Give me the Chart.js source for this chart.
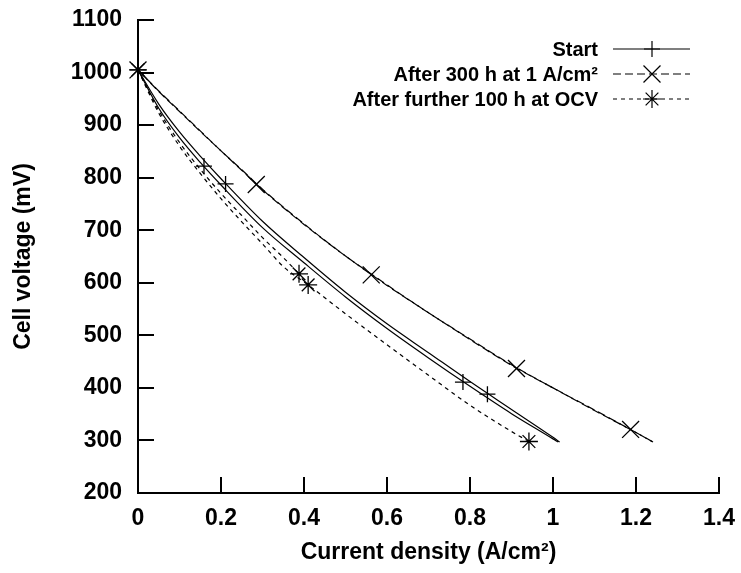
<!DOCTYPE html>
<html>
<head>
<meta charset="utf-8">
<script src="https://cdn.jsdelivr.net/npm/chart.js@4.4.1/dist/chart.umd.min.js"></script>
<style>
    body { margin: 0; background: #fff; }
</style>
</head>
<body>
<canvas id="polarisationChart" width="741" height="573"></canvas>
<script>
// Series names
const seriesNames = ['Start', 'After 300 h at 1 A/cm²', 'After further 100 h at OCV'];

// Start (two sweeps)
const startCurrentA = [0, 0.05, 0.1, 0.15, 0.2, 0.3, 0.4, 0.5, 0.6, 0.7, 0.8, 0.9, 1.0, 1.016];
const startVoltageA = [1005, 940, 887, 841, 798, 717, 648, 582, 522, 467, 412, 359, 306, 297];
const startCurrentB = [0, 0.05, 0.1, 0.15, 0.2, 0.3, 0.4, 0.5, 0.6, 0.7, 0.8, 0.9, 1.0, 1.012];
const startVoltageB = [1005, 932, 876, 829, 786, 705, 638, 573, 513, 457, 403, 351, 303, 297];
const startMarkCurrent = [0, 0.159, 0.211, 0.783, 0.842];
const startMarkVoltage = [1005, 822, 788, 411, 388];

// After 300 h at 1 A/cm2 (two sweeps, nearly identical)
const agedCurrent = [0, 0.05, 0.1, 0.15, 0.2, 0.25, 0.3, 0.4, 0.5, 0.6, 0.7, 0.8, 0.9, 1.0, 1.1, 1.2, 1.241];
const agedVoltageA = [1005, 965, 927, 889, 851, 815, 778, 712, 651, 595, 543, 492, 443, 400, 358, 315, 297];
const agedVoltageB = [1005, 964, 926, 888, 851, 814, 777, 711, 651, 596, 543, 493, 444, 400, 357, 315, 297];
const agedMarkCurrent = [0, 0.285, 0.562, 0.912, 1.187];
const agedMarkVoltage = [1005, 787, 615, 437, 321];

// After further 100 h at OCV (two sweeps)
const ocvCurrentA = [0, 0.05, 0.1, 0.15, 0.2, 0.25, 0.3, 0.35, 0.388];
const ocvVoltageA = [1005, 928, 867, 816, 770, 728, 686, 648, 617];
const ocvCurrentB = [0, 0.05, 0.1, 0.15, 0.2, 0.25, 0.3, 0.35, 0.41, 0.5, 0.6, 0.7, 0.8, 0.9, 0.942];
const ocvVoltageB = [1005, 923, 860, 808, 760, 716, 674, 631, 596, 541, 482, 424, 367, 317, 298];
const ocvMarkCurrent = [0, 0.388, 0.41, 0.942];
const ocvMarkVoltage = [1005, 617, 596, 298];

const FONT = '"Liberation Sans", Arial, Helvetica, sans-serif';

function pts(xs, ys) {
    return xs.map((x, i) => ({ x: x, y: ys[i] }));
}

function curve(xs, ys, dash, dashOffset) {
    return {
        data: pts(xs, ys),
        borderColor: '#000',
        borderWidth: 1.2,
        borderDash: dash,
        borderDashOffset: dashOffset || 0,
        pointRadius: 0,
        cubicInterpolationMode: 'monotone',
        fill: false
    };
}

function markers(xs, ys, style, radius) {
    return {
        data: pts(xs, ys),
        showLine: false,
        pointStyle: style,
        pointRadius: radius,
        pointBorderWidth: 1.3,
        pointBorderColor: '#000',
        pointBackgroundColor: '#000'
    };
}

const legendStyles = [
    { dash: [], point: 'cross', radius: 8 },
    { dash: [8, 4], point: 'crossRot', radius: 12 },
    { dash: [4, 4], point: 'star', radius: 9 }
];

// Inward tick marks, gnuplot style
const innerTicks = {
    id: 'innerTicks',
    afterDatasetsDraw(chart) {
        const ctx = chart.ctx;
        const area = chart.chartArea;
        const xs = chart.scales.x, ys = chart.scales.y;
        ctx.save();
        ctx.strokeStyle = '#000';
        ctx.lineWidth = 2;
        ctx.beginPath();
        xs.ticks.forEach(t => {
            const px = Math.round(xs.getPixelForValue(t.value));
            ctx.moveTo(px, area.bottom);
            ctx.lineTo(px, area.bottom - 16);
        });
        ys.ticks.forEach(t => {
            const py = Math.round(ys.getPixelForValue(t.value));
            ctx.moveTo(area.left, py);
            ctx.lineTo(area.left + 16, py);
        });
        ctx.stroke();
        ctx.restore();
    }
};

// Legend: right-aligned text, line sample with marker
const sampleLegend = {
    id: 'sampleLegend',
    afterDraw(chart) {
        const ctx = chart.ctx;
        ctx.save();
        ctx.font = 'bold 20px ' + FONT;
        ctx.fillStyle = '#000';
        ctx.strokeStyle = '#000';
        ctx.textAlign = 'right';
        ctx.textBaseline = 'middle';
        seriesNames.forEach((name, i) => {
            const y = 49 + i * 25;
            const st = legendStyles[i];
            ctx.fillText(name, 598, y + 1);
            ctx.lineWidth = 1.2;
            ctx.setLineDash(st.dash);
            ctx.beginPath();
            ctx.moveTo(613, y);
            ctx.lineTo(690, y);
            ctx.stroke();
            ctx.setLineDash([]);
            Chart.helpers.drawPoint(ctx, { pointStyle: st.point, radius: st.radius, borderWidth: 1.3, rotation: 0 }, 652, y);
        });
        ctx.restore();
    }
};

const config = {
    type: 'line',
    data: {
        datasets: [
            curve(startCurrentA, startVoltageA, []),
            curve(startCurrentB, startVoltageB, []),
            curve(agedCurrent, agedVoltageA, [8, 4]),
            curve(agedCurrent, agedVoltageB, [8, 4], 6),
            curve(ocvCurrentA, ocvVoltageA, [4, 4]),
            curve(ocvCurrentB, ocvVoltageB, [4, 4]),
            markers(startMarkCurrent, startMarkVoltage, 'cross', 8),
            markers(agedMarkCurrent, agedMarkVoltage, 'crossRot', 12),
            markers(ocvMarkCurrent, ocvMarkVoltage, 'star', 9)
        ]
    },
    options: {
        responsive: false,
        animation: false,
        clip: false,
        layout: { padding: { top: 20, right: 22, left: 0, bottom: 0 } },
        plugins: {
            legend: { display: false },
            tooltip: { enabled: false }
        },
        scales: {
            x: {
                type: 'linear',
                min: 0,
                max: 1.4,
                ticks: {
                    stepSize: 0.2, color: '#000', padding: 4,
                    font: { family: FONT, size: 23, weight: 'bold' },
                    callback: v => String(Number(v.toFixed(1)))
                },
                grid: { display: false },
                border: { display: true, color: '#000', width: 2 },
                title: { display: true, text: 'Current density (A/cm²)', color: '#000', padding: { top: 0, bottom: 7 }, font: { family: FONT, size: 23, weight: 'bold' } },
                afterFit: s => { s.height = 80; s.paddingLeft = 0; s.paddingRight = 0; }
            },
            y: {
                min: 200,
                max: 1100,
                ticks: {
                    stepSize: 100, color: '#000', padding: 8,
                    font: { family: FONT, size: 23, weight: 'bold' },
                    callback: v => String(v)
                },
                grid: { display: false },
                border: { display: true, color: '#000', width: 2 },
                title: { display: true, text: 'Cell voltage (mV)', color: '#000', padding: { top: 10, bottom: 0 }, font: { family: FONT, size: 23, weight: 'bold' } },
                afterFit: s => { s.width = 138; s.paddingTop = 0; s.paddingBottom = 0; }
            }
        }
    },
    plugins: [innerTicks, sampleLegend]
};

new Chart(document.getElementById('polarisationChart').getContext('2d'), config);
</script>
</body>
</html>
